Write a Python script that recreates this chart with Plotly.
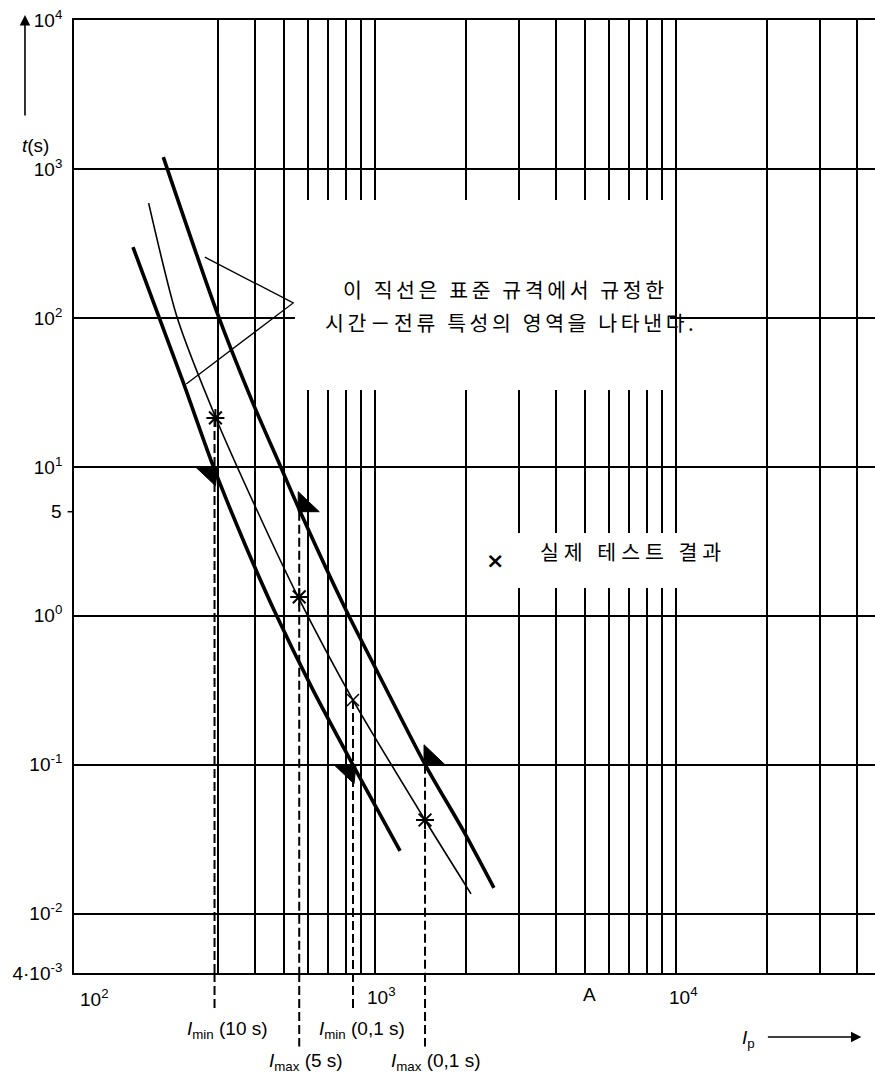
import math
import plotly.graph_objects as go

# ---------------- data ----------------
# grid lines (A) and (s)
x_grid = [300, 400, 500, 600, 700, 800, 900, 1000,
          2000, 3000, 4000, 5000, 6000, 7000, 8000, 9000, 10000,
          20000, 30000, 40000]
y_grid = [0.004, 0.01, 0.1, 1, 10, 100, 1000, 10000]
y_tick_text = ["4·10<sup>-3</sup>", "10<sup>-2</sup>", "10<sup>-1</sup>", "10<sup>0</sup>",
               "10<sup>1</sup>", "10<sup>2</sup>", "10<sup>3</sup>", "10<sup>4</sup>"]

# lower limit curve (thick, left)
lower_I = [157, 229, 290, 373, 465, 622, 845, 1211]
lower_t = [299, 38.3, 10.1, 2.9, 1.06, 0.318, 0.0996, 0.0264]

# actual fuse curve (thin, middle)
mid_I = [177, 220, 296, 405, 555, 845, 1466, 2084]
mid_t = [590, 101, 21.3, 5.13, 1.34, 0.272, 0.0426, 0.0136]

# upper limit curve (thick, right)
upper_I = [198, 299, 393, 483, 563, 807, 984, 1470, 1959, 2483]
upper_t = [1202, 108, 26.8, 10.3, 5.06, 1.06, 0.482, 0.0996, 0.0365, 0.0149]

# test results (asterisks) and the x mark
test_I = [295, 560, 1466]
test_t = [21.3, 1.34, 0.0426]
x_mark_I = [845]
x_mark_t = [0.272]

# characteristic currents (dashed verticals)
lim_names = ["<i>I</i><sub>min</sub> (10 s)", "<i>I</i><sub>max</sub> (5 s)",
             "<i>I</i><sub>min</sub> (0,1 s)", "<i>I</i><sub>max</sub> (0,1 s)"]
lim_I = [293, 560, 845, 1466]
lim_t_start = [21.3, 5.0, 0.272, 0.1]
lim_t_flag = [10, 5, 0.1, 0.1]
lim_kind = ["min", "max", "min", "max"]

# callout lines of the note
callout_I = [272, 535, 236]
callout_t = [256, 126, 36]

# white masked regions of the grid (text boxes)
mask_I = [(542, 9550), (2700, 11000)]
mask_t = [(32.8, 620), (1.54, 3.6)]

FONT = "Liberation Sans, Arial, Helvetica"
KFONT = "Noto Sans CJK KR"

fig = go.Figure()

curve_style = dict(color="black", shape="spline", smoothing=0.7)
fig.add_trace(go.Scatter(x=lower_I, y=lower_t, mode="lines",
                         line=dict(width=3.6, **curve_style),
                         hoverinfo="skip", showlegend=False))
fig.add_trace(go.Scatter(x=mid_I, y=mid_t, mode="lines",
                         line=dict(width=1.6, **curve_style),
                         hoverinfo="skip", showlegend=False))
fig.add_trace(go.Scatter(x=upper_I, y=upper_t, mode="lines",
                         line=dict(width=3.6, **curve_style),
                         hoverinfo="skip", showlegend=False))
# callout
fig.add_trace(go.Scatter(x=callout_I, y=callout_t, mode="lines",
                         line=dict(color="black", width=1.3),
                         hoverinfo="skip", showlegend=False))
# markers
fig.add_trace(go.Scatter(x=test_I, y=test_t, mode="markers",
                         marker=dict(symbol="asterisk-open", size=15, color="black",
                                     line=dict(color="black", width=2)),
                         hoverinfo="skip", showlegend=False))
fig.add_trace(go.Scatter(x=x_mark_I, y=x_mark_t, mode="markers",
                         marker=dict(symbol="x-thin-open", size=12, color="black",
                                     line=dict(color="black", width=1.5)),
                         hoverinfo="skip", showlegend=False))

shapes = []
for (i0, i1), (t0, t1) in zip(mask_I, mask_t):
    shapes.append(dict(type="rect", xref="x", yref="y", x0=i0, x1=i1, y0=t0, y1=t1,
                       fillcolor="white", line=dict(width=0), layer="between"))

dash = "9px,4px"
for I, ts, tf, kind in zip(lim_I, lim_t_start, lim_t_flag, lim_kind):
    shapes.append(dict(type="line", xref="x", yref="y", x0=I, x1=I, y0=ts, y1=0.004,
                       line=dict(color="black", width=2, dash=dash), layer="above"))
    bottom = -0.041 if kind == "min" else -0.077
    shapes.append(dict(type="line", xref="x", yref="paper", x0=I, x1=I, y0=0, y1=bottom,
                       line=dict(color="black", width=2, dash=dash), layer="above"))
    if kind == "min":
        path = "M -19,0 L 3,0 L 1,-19 Z"
    else:
        path = "M -1,0 L 20,0 L -1,20 Z"
    shapes.append(dict(type="path", xref="x", yref="y", xsizemode="pixel", ysizemode="pixel",
                       xanchor=I, yanchor=tf, path=path,
                       fillcolor="black", line=dict(color="black", width=1), layer="above"))

# small tick for "5"
shapes.append(dict(type="line", xref="paper", yref="y", x0=-0.008, x1=0, y0=5, y1=5,
                   line=dict(color="black", width=1.5)))

tf_ = dict(family=FONT, size=19, color="black")
annotations = []
# x labels
annotations.append(dict(x=0.005, y=-0.041, xref="paper", yref="paper", text="10<sup>2</sup>",
                        xanchor="left", showarrow=False, font=tf_))
annotations.append(dict(x=3, y=-0.039, xref="x", yref="paper", text="10<sup>3</sup>",
                        xanchor="left", xshift=-10, showarrow=False, font=tf_))
annotations.append(dict(x=4, y=-0.039, xref="x", yref="paper", text="10<sup>4</sup>",
                        xanchor="left", xshift=-9, showarrow=False, font=tf_))
annotations.append(dict(x=0.644, y=-0.036, xref="paper", yref="paper", text="A",
                        showarrow=False, font=tf_))
# "5" label
annotations.append(dict(x=-0.012, y=math.log10(5), xref="paper", yref="y", text="5",
                        xanchor="right", showarrow=False, font=tf_))
# dashed-line labels
shifts = [13, 7, 9, 11]
for name, I, kind, sh in zip(lim_names, lim_I, lim_kind, shifts):
    yy = -0.0745 if kind == "min" else -0.1085
    annotations.append(dict(x=math.log10(I), y=yy, xref="x", yref="paper", text=name,
                            xshift=sh, showarrow=False,
                            font=dict(family=FONT, size=19, color="black")))
# axis titles with arrows
annotations.append(dict(x=-0.067, y=0.881, xref="paper", yref="paper", text="<i>t</i>(s)",
                        showarrow=False, font=tf_))
annotations.append(dict(x=-0.0612, y=1.0052, xref="paper", yref="paper", text="",
                        showarrow=True, ax=0, ay=102, arrowhead=2, arrowsize=1.3,
                        arrowwidth=1.6, arrowcolor="black"))
annotations.append(dict(x=0.853, y=-0.084, xref="paper", yref="paper",
                        text="<i>I</i><sub>p</sub>",
                        showarrow=False, font=tf_))
annotations.append(dict(x=0.983, y=-0.0672, xref="paper", yref="paper", text="",
                        showarrow=True, ax=-95, ay=0, arrowhead=2, arrowsize=1.3,
                        arrowwidth=1.6, arrowcolor="black"))
# note text
ls = '<span style="letter-spacing:3.6px">{}</span>'
annotations.append(dict(x=0.539, y=0.7356, xref="paper", yref="paper",
                        text=ls.format("이 직선은 표준 규격에서 규정한"),
                        showarrow=False, font=dict(family=KFONT, size=20.5, color="black")))
annotations.append(dict(x=0.546, y=0.701, xref="paper", yref="paper",
                        text=ls.format("시간－전류 특성의 영역을 나타낸다."),
                        showarrow=False, font=dict(family=KFONT, size=20.5, color="black")))
# legend
annotations.append(dict(x=0.526, y=0.433, xref="paper", yref="paper", text="<b>×</b>",
                        showarrow=False, font=dict(family="DejaVu Sans", size=22, color="black")))
annotations.append(dict(x=0.579, y=0.443, xref="paper", yref="paper", xanchor="left",
                        text='<span style="letter-spacing:5px">실제 테스트 결과</span>',
                        showarrow=False, font=dict(family=KFONT, size=20.5, color="black")))

fig.update_layout(
    width=875, height=1079,
    margin=dict(l=74, r=0, t=20, b=106),
    paper_bgcolor="white", plot_bgcolor="white",
    shapes=shapes, annotations=annotations,
    showlegend=False,
    xaxis=dict(type="log", range=[2, 4.661], tickvals=x_grid, showticklabels=False,
               ticks="", showgrid=True, gridcolor="black", gridwidth=1.5,
               showline=True, linecolor="black", linewidth=1.8, mirror=True,
               zeroline=False, fixedrange=True),
    yaxis=dict(type="log", range=[math.log10(0.004), 4], tickvals=y_grid, ticktext=y_tick_text,
               ticks="", ticklabelstandoff=6, showgrid=True, gridcolor="black", gridwidth=1.5,
               showline=True, linecolor="black", linewidth=1.8, mirror=False,
               zeroline=False, fixedrange=True,
               tickfont=tf_),
)

fig.write_html("out.html", config={"displayModeBar": False},
               post_script="document.body.style.margin='0';document.body.style.padding='0';")
